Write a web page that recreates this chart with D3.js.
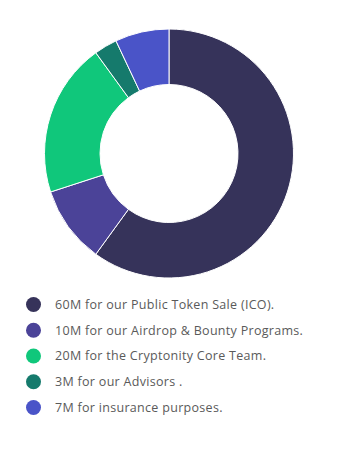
<!DOCTYPE html>
<html><head><meta charset="utf-8">
<script src="https://cdn.jsdelivr.net/npm/d3@7"></script>
<style>html,body{margin:0;padding:0;background:#fff;}svg{display:block;}</style>
</head><body>
<svg id="chart" width="339" height="454"></svg>
<script>
const labels = ["60M for our Public Token Sale (ICO).","10M for our Airdrop & Bounty Programs.","20M for the Cryptonity Core Team.","3M for our Advisors .","7M for insurance purposes."];
const values = [60, 10, 20, 3, 7];
const colors = ["#36335a", "#4b4398", "#10c77b", "#157a6c", "#4a54c8"];

const svg = d3.select("#chart");
const cx = 169, cy = 153.5, R = 124.5, r = 69;
const pie = d3.pie().sort(null).value(d => d)(values);
const arc = d3.arc().innerRadius(r).outerRadius(R);
svg.append("g").attr("transform", `translate(${cx},${cy})`)
  .selectAll("path").data(pie).join("path")
  .attr("d", arc).attr("fill", (d,i) => colors[i])
  .attr("stroke", "#fff").attr("stroke-width", 1);

const y = d3.scalePoint().domain(d3.range(labels.length)).range([304.5, 407.5]);
const lg = svg.append("g");
const items = lg.selectAll("g").data(labels).join("g")
  .attr("transform", (d,i) => `translate(0,${y(i)})`);
items.append("circle").attr("cx", 33.5).attr("cy", 0).attr("r", 7.5)
  .attr("fill", (d,i) => colors[i]);
items.append("text").attr("x", 55).attr("y", 0).attr("dy", "0.35em")
  .attr("font-family", "'Open Sans', sans-serif").attr("font-size", 12.5)
  .attr("letter-spacing", "0.3px")
  .attr("fill", "#5a5a5a").text(d => d);
</script>
</body></html>
